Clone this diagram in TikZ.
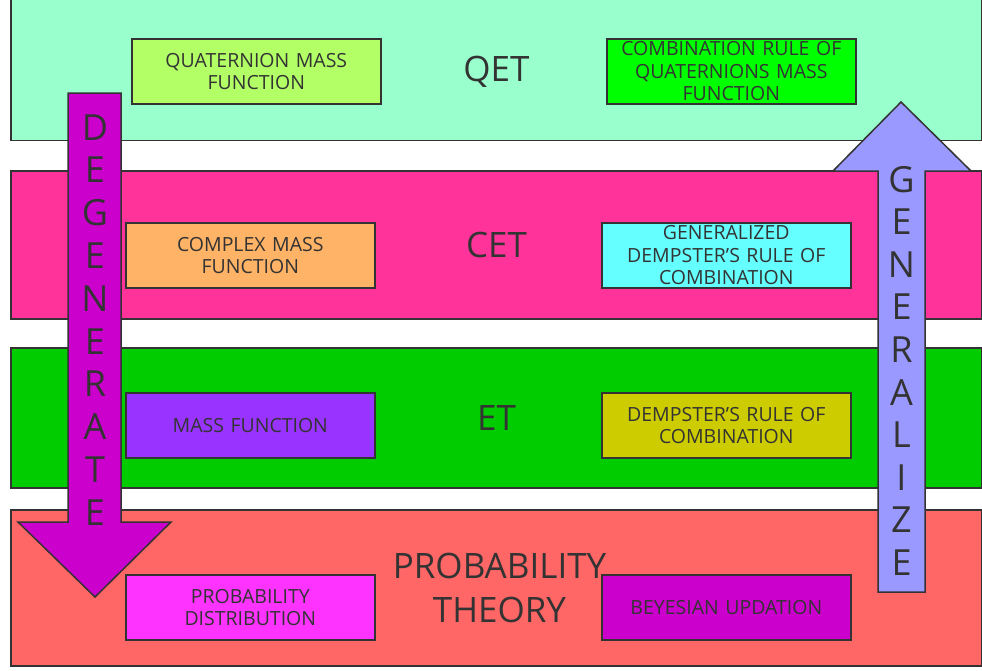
\documentclass[tikz,border=0pt]{standalone}
\usepackage{fontspec}
\setmainfont{Open Sans}
\definecolor{ink}{HTML}{333333}
\definecolor{qetc}{HTML}{99FFCC}
\definecolor{cetc}{HTML}{FF3399}
\definecolor{etc}{HTML}{00CC00}
\definecolor{ptc}{HTML}{FF6666}
\definecolor{quatc}{HTML}{B3FF66}
\definecolor{combc}{HTML}{00FF00}
\definecolor{cplxc}{HTML}{FFB366}
\definecolor{genc}{HTML}{66FFFF}
\definecolor{massc}{HTML}{9933FF}
\definecolor{dempc}{HTML}{CCCC00}
\definecolor{pdc}{HTML}{FF33FF}
\definecolor{beyc}{HTML}{CC00CC}
\definecolor{degc}{HTML}{CC00CC}
\definecolor{genac}{HTML}{9999FF}
\newcommand{\sq}{{\char39}}
\begin{document}
\begin{tikzpicture}[x=1pt,y=-1pt,
  band/.style={draw=ink, line width=1.5pt, rectangle, inner sep=0pt, minimum width=971pt, anchor=north west},
  box/.style={draw=ink, line width=1.6pt, rectangle, inner xsep=2pt, inner ysep=0pt,
    minimum width=249pt, minimum height=65pt, text width=245pt, align=center, anchor=north west,
    text=ink, font=\fontsize{19.5}{22.5}\selectfont},
  title/.style={text=ink, font=\fontsize{35}{44}\selectfont, align=center, inner sep=0pt},
  vletter/.style={text=ink, font=\fontsize{36}{40}\selectfont, inner sep=0pt, anchor=base},
  bigarrow/.style={draw=ink, line width=1.5pt, line join=miter}
]
\useasboundingbox (0,0) rectangle (982,670);
\clip (0,0) rectangle (982,670);
\fill[white] (0,0) rectangle (982,670);

% bands
\node[band, fill=qetc, minimum height=151pt, anchor=south west] (qetband) at (10,141) {};
\node[band, fill=cetc, minimum height=148pt] (cetband) at (10,170) {};
\node[band, fill=etc, minimum height=140pt] (etband) at (10,347) {};
\node[band, fill=ptc, minimum height=156pt] (ptband) at (10,509) {};

% titles
\node[title, anchor=base] (qet) at (496.5,81) {QET};
\node[title, anchor=base] (cet) at (496.5,257) {CET};
\node[title, anchor=base] (et) at (496.5,430) {ET};
\node[title] (pt) at (499.5,587.5) {PROBABILITY\\THEORY};

% boxes
\node[box, fill=quatc] (quat) at (131,38) {QUATERNION MASS\\FUNCTION};
\node[box, fill=combc] (comb) at (606,38) {COMBINATION RULE OF\\QUATERNIONS MASS\\FUNCTION};
\node[box, fill=cplxc] (cplx) at (125,222) {COMPLEX MASS\\FUNCTION};
\node[box, fill=genc] (gen) at (601,222) {GENERALIZED\\DEMPSTER\sq S RULE OF\\COMBINATION};
\node[box, fill=massc] (mass) at (125,392) {MASS FUNCTION};
\node[box, fill=dempc] (demp) at (601,392) {DEMPSTER\sq S RULE OF\\COMBINATION};
\node[box, fill=pdc] (pd) at (125,574) {PROBABILITY\\DISTRIBUTION};
\node[box, fill=beyc] (bey) at (601,574) {BEYESIAN UPDATION};

% degenerate arrow
\draw[bigarrow, fill=degc] (68,93) -- (121,93) -- (121,522) -- (171,522) -- (95,597) -- (18,522) -- (68,522) -- cycle;
\foreach \l [count=\i] in {D,E,G,E,N,E,R,A,T,E}
  \node[vletter] (deg\i) at (95,{140+42.8*(\i-1)}) {\l};

% generalize arrow
\draw[bigarrow, fill=genac] (878,592) -- (925,592) -- (925,171) -- (971,171) -- (901,102) -- (833,171) -- (878,171) -- cycle;
\foreach \l [count=\i] in {G,E,N,E,R,A,L,I,Z,E}
  \node[vletter] (gen\i) at (901.5,{192+42.6*(\i-1)}) {\l};
\end{tikzpicture}
\end{document}
